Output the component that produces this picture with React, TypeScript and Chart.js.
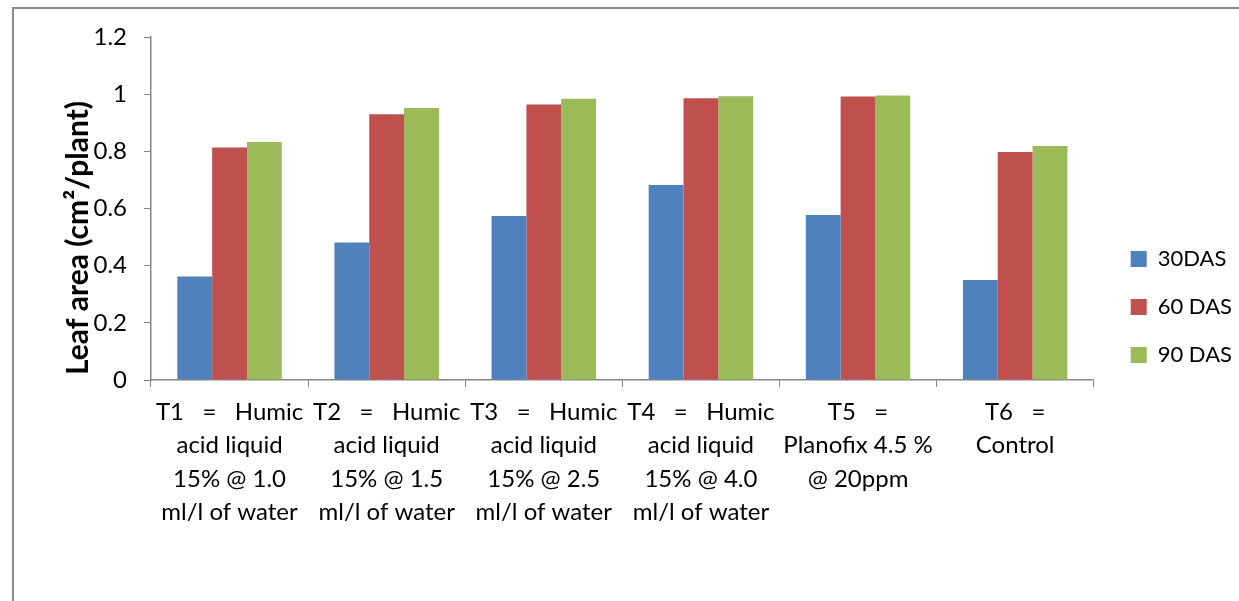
import React, { useEffect, useRef } from "react";
import { Chart, registerables } from "chart.js";

Chart.register(...registerables);

const categories: string[][] = [
  ["T1   =   Humic", "acid liquid", "15% @ 1.0", "ml/l of water"],
  ["T2   =   Humic", "acid liquid", "15% @ 1.5", "ml/l of water"],
  ["T3   =   Humic", "acid liquid", "15% @ 2.5", "ml/l of water"],
  ["T4   =   Humic", "acid liquid", "15% @ 4.0", "ml/l of water"],
  ["T5   =", "Planofix 4.5 %", "@ 20ppm"],
  ["T6   =", "Control"],
];
const seriesNames = ["30DAS", "60 DAS", "90 DAS"];
const das30 = [0.362, 0.481, 0.574, 0.682, 0.577, 0.35];
const das60 = [0.813, 0.93, 0.964, 0.986, 0.992, 0.798];
const das90 = [0.833, 0.952, 0.984, 0.993, 0.995, 0.819];
const seriesColors = ["#4F81BD", "#C0504D", "#9BBB59"];
const yMin = 0;
const yMax = 1.2;
const yStep = 0.2;
const yTitle = "Leaf area (cm\u00B2/plant)";

const FONT = "Lato, 'Liberation Sans', sans-serif";
const AXIS_GRAY = "#868686";

export default function App() {
  const ref = useRef<HTMLCanvasElement | null>(null);

  useEffect(() => {
    const canvas = ref.current;
    if (!canvas) return;

    const yTitlePlugin = {
      id: "yTitleCustom",
      afterLayout(chart: any) {
        const lg = chart.legend;
        if (lg) {
          const shift = chart.chartArea.right + 37 - (lg.left + 26);
          lg.left += shift;
          lg.right += shift;
          lg.top -= 12;
          lg.bottom -= 12;
        }
      },
      afterDraw(chart: any) {
        const ctx = chart.ctx;
        ctx.save();
        ctx.translate(64, 229);
        ctx.rotate(-Math.PI / 2);
        ctx.font = `bold 30px ${FONT}`;
        ctx.fillStyle = "#000";
        ctx.textAlign = "center";
        ctx.textBaseline = "middle";
        ctx.fillText(yTitle, 0, 0);
        ctx.restore();
      },
    };

    const chart = new Chart(canvas, {
      type: "bar",
      data: {
        labels: categories,
        datasets: [das30, das60, das90].map((d, i) => ({
          label: seriesNames[i],
          data: d,
          backgroundColor: seriesColors[i],
          borderWidth: 0,
          categoryPercentage: 0.665,
          barPercentage: 1,
        })),
      },
      options: {
        responsive: false,
        animation: false,
        maintainAspectRatio: false,
        layout: { padding: { left: 0, top: 28, right: 8, bottom: 0 } },
        plugins: {
          legend: {
            position: "right",
            align: "center",
            labels: {
              boxWidth: 16,
              boxHeight: 16,
              padding: 26,
              color: "#000",
              font: { family: FONT, size: 22 },
            },
          },
          title: { display: false },
          tooltip: { enabled: false },
        },
        scales: {
          x: {
            grid: {
              offset: true,
              drawOnChartArea: false,
              drawTicks: true,
              tickLength: 7,
              color: AXIS_GRAY,
              tickColor: AXIS_GRAY,
            },
            border: { display: true, color: AXIS_GRAY, width: 1.5 },
            ticks: {
              color: "#000",
              font: { family: FONT, size: 24, lineHeight: 1.38 },
              maxRotation: 0,
              minRotation: 0,
              autoSkip: false,
              padding: 9,
            },
            afterFit(scale: any) {
              scale.height = 221;
            },
          },
          y: {
            min: yMin,
            max: yMax,
            grid: {
              drawOnChartArea: false,
              drawTicks: true,
              tickLength: 7,
              color: AXIS_GRAY,
              tickColor: AXIS_GRAY,
            },
            border: { display: true, color: AXIS_GRAY, width: 1.5 },
            ticks: {
              stepSize: yStep,
              color: "#000",
              font: { family: FONT, size: 24, lineHeight: 0.9 },
              padding: 17,
              callback: (v: any) => String(Number(Number(v).toFixed(1))),
            },
            afterFit(scale: any) {
              scale.width = 137;
            },
          },
        },
      },
      plugins: [yTitlePlugin],
    });

    return () => chart.destroy();
  }, []);

  return (
    <div
      style={{
        position: "fixed",
        left: 12,
        top: 7,
        width: 1240,
        height: 600,
        borderLeft: "2px solid #8a8a8a",
        borderTop: "2px solid #8a8a8a",
        background: "#fff",
        overflow: "hidden",
      }}
    >
      <canvas ref={ref} width={1225} height={592} style={{ display: "block" }} />
    </div>
  );
}
